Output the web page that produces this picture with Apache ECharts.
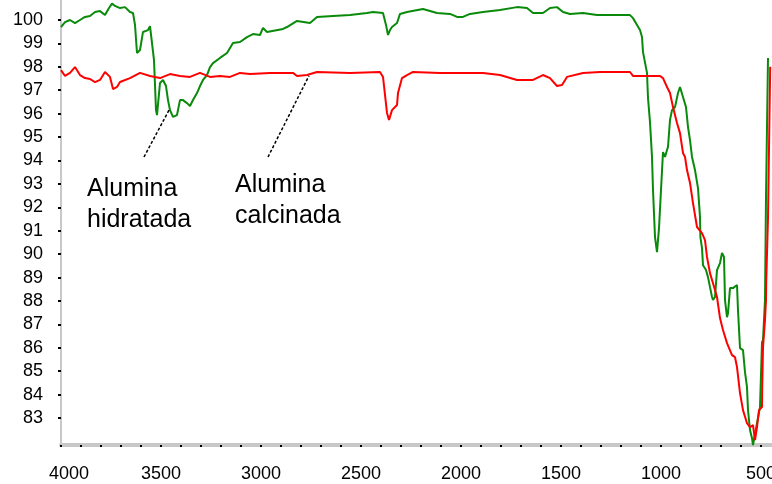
<!DOCTYPE html>
<html>
<head>
<meta charset="utf-8">
<script src="https://cdn.jsdelivr.net/npm/echarts@6/dist/echarts.min.js"></script>
<style>html,body{margin:0;padding:0;background:#fff;}#c{width:772px;height:484px;}</style>
</head>
<body>
<div id="c"></div>
<script>
// Wavenumber (cm-1) vs transmittance (%)
const hidratadaData = [
[4000,99.70],[3980,99.91],[3955,100.00],[3930,99.87],[3905,100.00],[3880,100.13],[3855,100.17],[3830,100.34],
[3805,100.38],[3780,100.21],[3760,100.51],[3745,100.70],[3730,100.60],[3705,100.51],[3680,100.55],[3655,100.34],
[3640,100.30],[3630,99.79],[3620,98.59],[3610,98.59],[3605,98.72],[3590,99.49],[3565,99.57],[3555,99.74],
[3545,99.66],[3535,98.29],[3525,96.15],[3520,95.94],[3510,95.94],[3505,97.31],[3490,97.44],[3475,97.18],
[3465,96.58],[3455,96.15],[3440,95.86],[3420,95.94],[3405,96.58],[3390,96.58],[3370,96.45],[3355,96.33],
[3340,96.58],[3320,96.88],[3305,97.18],[3290,97.44],[3270,97.65],[3255,97.99],[3240,98.16],[3205,98.38],
[3170,98.59],[3140,99.02],[3105,99.06],[3070,99.27],[3040,99.40],[3005,99.36],[2990,99.66],[2970,99.49],
[2890,99.62],[2870,99.70],[2820,99.96],[2755,99.87],[2720,100.13],[2640,100.17],[2555,100.21],[2470,100.30],
[2440,100.34],[2390,100.30],[2375,99.79],[2365,99.36],[2355,99.57],[2345,99.70],[2320,99.87],[2305,100.26],
[2270,100.34],[2190,100.47],[2120,100.30],[2055,100.26],[2020,100.13],[1990,100.13],[1955,100.26],[1890,100.34],
[1805,100.43],[1720,100.55],[1670,100.51],[1640,100.30],[1590,100.30],[1555,100.51],[1520,100.55],[1490,100.34],
[1455,100.26],[1390,100.30],[1320,100.21],[1155,100.21],[1140,100.08],[1120,99.79],[1105,99.57],[1095,99.27],
[1090,98.63],[1070,97.74],[1065,96.67],[1055,95.64],[1045,94.15],[1040,92.74],[1030,90.73],[1020,90.09],
[1010,91.11],[1000,92.74],[990,94.36],[980,94.15],[970,94.45],[965,94.58],[955,95.73],[945,96.15],
[930,96.28],[915,96.88],[905,97.14],[895,97.09],[890,96.71],[875,96.28],[865,95.43],[855,94.87],
[845,94.15],[830,93.59],[815,92.82],[805,91.58],[803,90.73],[795,90.26],[790,89.53],[775,89.32],
[765,89.02],[755,88.59],[745,88.17],[740,88.04],[730,88.17],[720,89.32],[705,89.62],[695,90.05],
[685,89.88],[680,88.04],[670,87.31],[665,87.48],[655,88.55],[640,88.55],[620,88.68],[615,87.61],
[605,85.99],[590,85.90],[580,84.96],[570,84.32],[565,83.34],[555,82.49],[545,82.14],[540,81.85],
[530,81.85],[520,82.78],[505,83.47],[495,86.24],[490,86.33],[480,88.04],[475,92.44],[470,92.44],[465,98.38]
];
const calcinadaData = [
[4000,97.86],[3980,97.61],[3955,97.74],[3930,97.99],[3905,97.65],[3880,97.52],[3855,97.48],[3830,97.35],
[3805,97.44],[3780,97.78],[3755,97.57],[3740,97.05],[3720,97.14],[3705,97.35],[3655,97.52],[3605,97.74],
[3555,97.61],[3505,97.52],[3455,97.69],[3405,97.61],[3355,97.57],[3305,97.74],[3255,97.57],[3205,97.61],
[3155,97.57],[3105,97.74],[3055,97.69],[2955,97.74],[2840,97.74],[2820,97.61],[2770,97.65],[2720,97.78],
[2555,97.74],[2405,97.78],[2390,97.57],[2370,96.03],[2360,95.73],[2345,96.15],[2320,96.37],[2315,96.88],
[2295,97.52],[2270,97.65],[2240,97.78],[2105,97.74],[1890,97.74],[1805,97.65],[1720,97.44],[1640,97.44],
[1590,97.65],[1555,97.52],[1520,97.18],[1495,97.22],[1470,97.57],[1390,97.74],[1305,97.78],[1155,97.78],
[1140,97.61],[1005,97.61],[990,97.52],[970,97.14],[955,96.88],[940,96.28],[920,95.60],[905,95.17],
[890,94.32],[880,94.15],[870,93.59],[855,93.04],[840,92.18],[820,91.16],[795,90.90],[780,90.60],
[770,89.88],[755,89.19],[740,88.76],[720,88.17],[705,87.27],[690,86.76],[670,86.20],[645,85.69],
[630,85.60],[620,85.18],[605,84.07],[590,83.34],[570,82.78],[555,82.61],[540,82.70],[530,82.06],
[520,82.61],[510,83.34],[495,83.47],[494,84.32],[490,86.03],[480,87.19],[475,88.04],[474,88.81],
[465,91.54],[455,91.54],[454,98.00]
];
const xTickLabels = [4000,3500,3000,2500,2000,1500,1000,500];
const xMinorTicks = [4000,3900,3800,3700,3600,3500,3400,3300,3200,3100,3000,2900,2800,2700,2600,2500,2400,2300,2200,2100,2000,1900,1800,1700,1600,1500,1400,1300,1200,1100,1000,900,800,700,600,500];
const yTickLabels = [100,99,98,97,96,95,94,93,92,91,90,89,88,87,86,85,84,83];
// annotation text and the data point each pointer reaches
const annotations = [
  {text:'Alumina\nhidratada', textAt:[3870,93.42], from:[3585,94.15], to:[3460,96.15]},
  {text:'Alumina\ncalcinada', textAt:[3130,93.60], from:[2965,94.15], to:[2760,97.62]}
];

const chart = echarts.init(document.getElementById('c'), null, {renderer:'canvas'});
const font = 'Liberation Sans, Arial, sans-serif';
chart.setOption({
  animation:false,
  backgroundColor:'#fff',
  grid:{left:61,right:0,top:0,bottom:39,containLabel:false,outerBoundsMode:'none'},
  xAxis:{
    type:'value', min:445, max:4000, inverse:true,
    axisLine:{show:true,lineStyle:{color:'#c8c8c8',width:4}},
    axisTick:{show:true,customValues:xMinorTicks,length:2,lineStyle:{color:'#000',width:2}},
    axisLabel:{show:true,customValues:xTickLabels,color:'#000',fontSize:18,fontFamily:font,margin:20,hideOverlap:false,
      formatter:function(v){return v===4000?'{f|4000}':String(v);},
      rich:{f:{fontSize:18,fontFamily:font,color:'#000',padding:[0,0,0,16]}}},
    splitLine:{show:false}
  },
  yAxis:{
    type:'value', min:81.85, max:100.854,
    axisLine:{show:true,lineStyle:{color:'#c8c8c8',width:2}},
    axisTick:{show:true,customValues:yTickLabels,length:3,lineStyle:{color:'#000',width:2}},
    axisLabel:{show:true,customValues:yTickLabels,color:'#000',fontSize:18,fontFamily:font,margin:18},
    splitLine:{show:false}
  },
  series:[
    {name:'Alumina hidratada',type:'line',data:hidratadaData,showSymbol:false,lineStyle:{color:'#0a8a0a',width:2},itemStyle:{color:'#0a8a0a'},z:2},
    {name:'Alumina calcinada',type:'line',data:calcinadaData,showSymbol:false,lineStyle:{color:'#ff0000',width:2},itemStyle:{color:'#ff0000'},z:3}
  ]
});

const graphics = [];
annotations.forEach(function(a){
  const t = chart.convertToPixel({gridIndex:0}, a.textAt);
  const p1 = chart.convertToPixel({gridIndex:0}, a.from);
  const p2 = chart.convertToPixel({gridIndex:0}, a.to);
  graphics.push({type:'line',shape:{x1:p1[0],y1:p1[1],x2:p2[0],y2:p2[1]},style:{stroke:'#000',lineWidth:1.5,lineDash:[3,2]},z:10});
  graphics.push({type:'text',x:t[0],y:t[1],style:{text:a.text,fill:'#000',font:'25px '+font,lineHeight:31,textAlign:'left',textVerticalAlign:'top'},z:10});
});
chart.setOption({graphic:graphics});
</script>
</body>
</html>
